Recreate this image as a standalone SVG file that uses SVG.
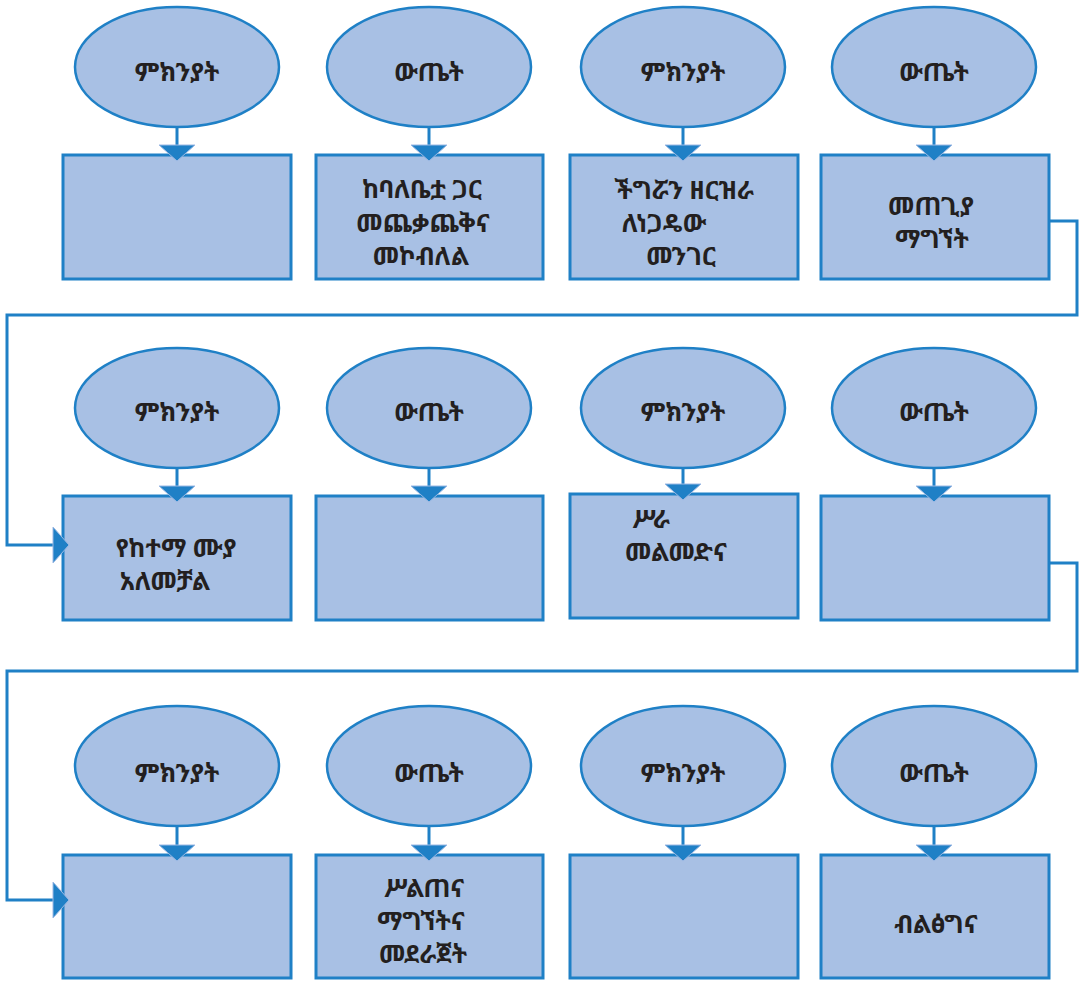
<svg xmlns="http://www.w3.org/2000/svg" width="1080" height="981" viewBox="0 0 1080 981">
<defs>
<style>
.el{fill:#a8c0e4;stroke:#1f80c6;stroke-width:2.5}
.bx{fill:#a8c0e4;stroke:#1f80c6;stroke-width:3}
.cn{fill:none;stroke:#1f80c6;stroke-width:3}
.t{font-family:"Noto Sans Ethiopic","Abyssinica SIL","FreeSerif","Noto Sans","DejaVu Sans",sans-serif;font-size:25px;font-weight:bold;fill:#231f20;text-anchor:middle}
</style>
<marker id="arr" markerUnits="userSpaceOnUse" markerWidth="18" markerHeight="38" viewBox="-1 -1 18 38" refX="0" refY="18" orient="auto">
<path d="M0,0 L16,18 L0,36 Z" fill="#1f80c6" stroke="#9cb9e4" stroke-width="1"/>
</marker>
</defs>
<rect width="1080" height="981" fill="#ffffff"/>
<g id="e1"><ellipse class="el" cx="177" cy="67" rx="102" ry="60"/><text class="t" x="177" y="81">ምክንያት</text></g>
<g id="e2"><ellipse class="el" cx="429" cy="67" rx="102" ry="60"/><text class="t" x="429" y="81">ውጤት</text></g>
<g id="e3"><ellipse class="el" cx="683" cy="67" rx="102" ry="60"/><text class="t" x="683" y="81">ምክንያት</text></g>
<g id="e4"><ellipse class="el" cx="934" cy="67" rx="102" ry="60"/><text class="t" x="934" y="81">ውጤት</text></g>
<g id="r1"><rect class="bx" x="63" y="155" width="228" height="124"/></g>
<g id="r2"><rect class="bx" x="316" y="155" width="227" height="124"/><text class="t" x="422" y="198">ከባለቤቷ  ጋር</text><text class="t" x="423" y="232">መጨቃጨቅና</text><text class="t" x="421" y="265">መኮብለል</text></g>
<g id="r3"><rect class="bx" x="570" y="155" width="228" height="124"/><text class="t" x="684" y="199">ችግሯን ዘርዝራ</text><text class="t" x="664" y="232">ለነጋዴው</text><text class="t" x="681" y="265">መንገር</text></g>
<g id="r4"><rect class="bx" x="821" y="155" width="228" height="124"/><text class="t" x="931" y="215">መጠጊያ</text><text class="t" x="932" y="248">ማግኘት</text></g>
<g id="e5"><ellipse class="el" cx="177" cy="408" rx="102" ry="60"/><text class="t" x="177" y="421">ምክንያት</text></g>
<g id="e6"><ellipse class="el" cx="429" cy="408" rx="102" ry="60"/><text class="t" x="429" y="421">ውጤት</text></g>
<g id="e7"><ellipse class="el" cx="683" cy="408" rx="102" ry="60"/><text class="t" x="683" y="421">ምክንያት</text></g>
<g id="e8"><ellipse class="el" cx="934" cy="408" rx="102" ry="60"/><text class="t" x="934" y="421">ውጤት</text></g>
<g id="r5"><rect class="bx" x="63" y="496" width="228" height="124"/><text class="t" x="176" y="557">የከተማ ሙያ</text><text class="t" x="165" y="590">አለመቻል</text></g>
<g id="r6"><rect class="bx" x="316" y="496" width="227" height="124"/></g>
<g id="r7"><rect class="bx" x="570" y="494" width="228" height="124"/><text class="t" x="651" y="528">ሥራ</text><text class="t" x="676" y="561">መልመድና</text></g>
<g id="r8"><rect class="bx" x="821" y="496" width="228" height="124"/></g>
<g id="e9"><ellipse class="el" cx="177" cy="766" rx="102" ry="60"/><text class="t" x="177" y="782">ምክንያት</text></g>
<g id="e10"><ellipse class="el" cx="429" cy="766" rx="102" ry="60"/><text class="t" x="429" y="782">ውጤት</text></g>
<g id="e11"><ellipse class="el" cx="683" cy="766" rx="102" ry="60"/><text class="t" x="683" y="782">ምክንያት</text></g>
<g id="e12"><ellipse class="el" cx="934" cy="766" rx="102" ry="60"/><text class="t" x="934" y="782">ውጤት</text></g>
<g id="r9"><rect class="bx" x="63" y="855" width="228" height="123"/></g>
<g id="r10"><rect class="bx" x="316" y="855" width="227" height="123"/><text class="t" x="424" y="897">ሥልጠና</text><text class="t" x="421" y="930">ማግኘትና</text><text class="t" x="423" y="963">መደራጀት</text></g>
<g id="r11"><rect class="bx" x="570" y="855" width="228" height="123"/></g>
<g id="r12"><rect class="bx" x="821" y="855" width="228" height="123"/><text class="t" x="936" y="933">ብልፅግና</text></g>
<g id="connectors">
<path class="cn" d="M177,127 V145" marker-end="url(#arr)"/>
<path class="cn" d="M429,127 V145" marker-end="url(#arr)"/>
<path class="cn" d="M683,127 V145" marker-end="url(#arr)"/>
<path class="cn" d="M934,127 V145" marker-end="url(#arr)"/>
<path class="cn" d="M177,468 V486" marker-end="url(#arr)"/>
<path class="cn" d="M429,468 V486" marker-end="url(#arr)"/>
<path class="cn" d="M683,468 V484" marker-end="url(#arr)"/>
<path class="cn" d="M934,468 V486" marker-end="url(#arr)"/>
<path class="cn" d="M177,826 V845" marker-end="url(#arr)"/>
<path class="cn" d="M429,826 V845" marker-end="url(#arr)"/>
<path class="cn" d="M683,826 V845" marker-end="url(#arr)"/>
<path class="cn" d="M934,826 V845" marker-end="url(#arr)"/>
<path class="cn" d="M1049,221 H1077 V315 H7 V545 H53" marker-end="url(#arr)"/>
<path class="cn" d="M1049,563 H1077 V671 H7 V900 H53" marker-end="url(#arr)"/>
</g>
</svg>
